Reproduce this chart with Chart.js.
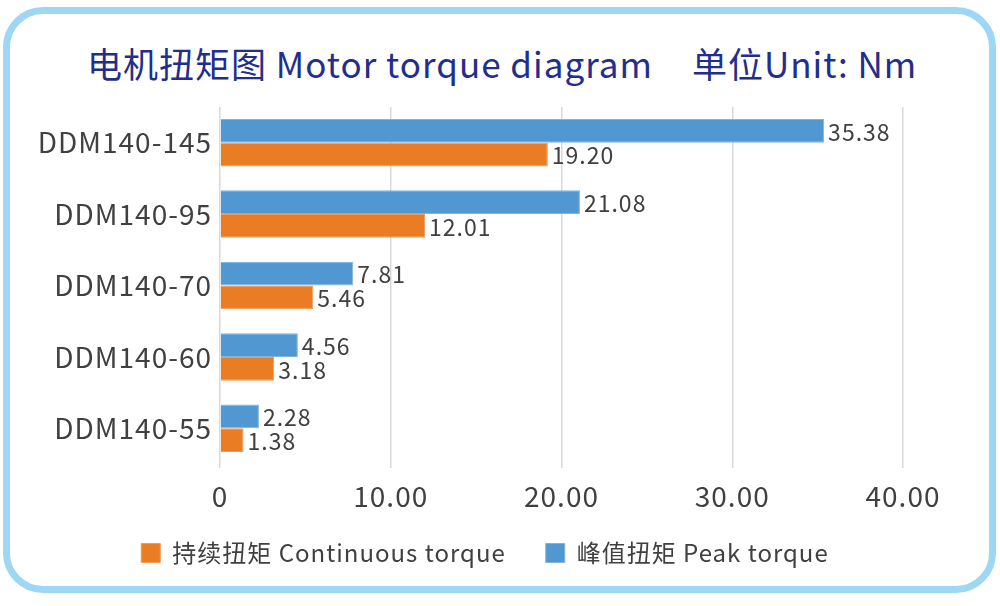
<!DOCTYPE html>
<html>
<head>
<meta charset="utf-8">
<script src="https://cdn.jsdelivr.net/npm/chart.js@4"></script>
<style>
  body { margin: 0; background: #fff; }
  #wrap { position: relative; width: 1000px; height: 606px; font-family: "Noto Sans CJK SC", "Noto Sans", sans-serif; }
  #frame { position: absolute; left: 3px; top: 7px; width: 993px; height: 586px; box-sizing: border-box;
           border: 7px solid #9ed7f4; border-radius: 40px; }
  .title { position: absolute; top: 45px; font-size: 35px; letter-spacing: 1px; color: #222e8c; white-space: nowrap; line-height: 1; }
  #chartBox { position: absolute; left: 0; top: 0; width: 1000px; height: 606px; }
</style>
</head>
<body>
<div id="wrap">
  <div id="frame"></div>
  <div class="title" style="left:87px">电机扭矩图 Motor torque diagram</div>
  <div class="title" style="left:692px">单位Unit: Nm</div>
  <div id="chartBox"><canvas id="torqueChart"></canvas></div>
</div>
<script>
const models = ['DDM140-145', 'DDM140-95', 'DDM140-70', 'DDM140-60', 'DDM140-55'];
const peakTorque = [35.38, 21.08, 7.81, 4.56, 2.28];
const continuousTorque = [19.20, 12.01, 5.46, 3.18, 1.38];
const xTicks = [0, 10, 20, 30, 40];

const FONT = '"Noto Sans CJK SC", "Noto Sans", sans-serif';
const TEXT = '#404040';

// the source chart is drawn with slightly spaced letters
const spacing = {
    id: 'spacing',
    beforeLayout(chart) {
        chart.ctx.letterSpacing = '1px';
        const lg = chart.legend;
        if (lg && !lg._fixed) {
            const fit = lg.fit.bind(lg);
            lg.fit = function () { fit(); this.height = 80; };
            lg._fixed = true;
        }
    },
    afterLayout(chart) {
        // put the legend row where the original has it
        const lg = chart.legend;
        lg.top = 501;
        lg.bottom = lg.top + lg.height;
        lg.left = 0;
        lg.right = 970;
        lg.width = 970;
    },
    beforeDraw(chart) {
        chart.ctx.letterSpacing = '1px';
    }
};

// value labels at the end of each bar
const barValues = {
    id: 'barValues',
    afterDatasetsDraw(chart) {
        const ctx = chart.ctx;
        ctx.save();
        ctx.font = '23px ' + FONT;
        ctx.fillStyle = TEXT;
        ctx.textAlign = 'left';
        ctx.textBaseline = 'middle';
        chart.data.datasets.forEach((ds, i) => {
            chart.getDatasetMeta(i).data.forEach((bar, j) => {
                ctx.fillText(ds.data[j].toFixed(2), bar.x + 4, bar.y + 1);
            });
        });
        ctx.restore();
    }
};

const config = {
    type: 'bar',
    data: {
        labels: models,
        datasets: [{
            label: '峰值扭矩 Peak torque',
            data: peakTorque,
            backgroundColor: '#5198d3',
            borderColor: '#7db4e2',
            borderWidth: 1
        }, {
            label: '持续扭矩 Continuous torque',
            data: continuousTorque,
            backgroundColor: '#ea7c24',
            borderColor: '#f09a55',
            borderWidth: 1
        }]
    },
    options: {
        indexAxis: 'y',
        responsive: true,
        maintainAspectRatio: false,
        animation: false,
        categoryPercentage: 0.665,
        barPercentage: 1.0,
        layout: { padding: { top: 107, right: 97, bottom: 12, left: 0 } },
        scales: {
            x: {
                min: xTicks[0],
                max: xTicks[xTicks.length - 1],
                afterBuildTicks: (scale) => { scale.ticks = xTicks.map(v => ({ value: v })); },
                afterFit: (scale) => { scale.height = 50; },
                grid: { color: '#d9d9d9', lineWidth: 1.5, tickLength: 4 },
                border: { display: false },
                ticks: {
                    padding: 12,
                    color: TEXT,
                    font: { family: FONT, size: 28 },
                    callback: (v) => v === 0 ? '0' : v.toFixed(2)
                }
            },
            y: {
                afterFit: (scale) => { scale.width = 220; },
                grid: { display: false },
                border: { display: false },
                ticks: { padding: 0, color: TEXT, font: { family: FONT, size: 28 } }
            }
        },
        plugins: {
            legend: {
                position: 'bottom',
                reverse: true,
                labels: {
                    color: TEXT,
                    font: { family: FONT, size: 24 },
                    boxWidth: 19,
                    boxHeight: 19,
                    padding: 40
                }
            },
            tooltip: { enabled: false }
        }
    },
    plugins: [spacing, barValues]
};

new Chart(document.getElementById('torqueChart'), config);
</script>
</body>
</html>
